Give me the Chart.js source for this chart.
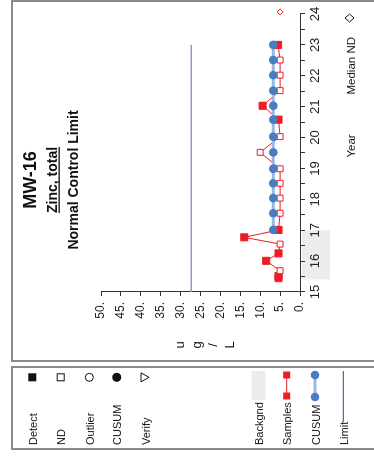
<!DOCTYPE html>
<html>
<head>
<meta charset="utf-8">
<script src="https://cdn.jsdelivr.net/npm/chart.js@4/dist/chart.umd.min.js"></script>
<style>
  html, body { margin: 0; padding: 0; background: #fff; overflow: hidden; }
  #wrap {
    position: absolute; left: 0; top: 0;
    width: 457px; height: 374px;
    transform-origin: top left;
    transform: translate(0, 457px) rotate(-90deg);
  }
</style>
</head>
<body>
<div id="wrap"><canvas id="myChart" width="457" height="374"></canvas></div>
<script>
// chart data (years as decimal, ug/L)
var sampleYears  = [15.45, 15.52, 15.69, 16.01, 16.25, 16.55, 16.77, 17.01, 17.55, 18.04, 18.52, 18.99, 19.52, 20.03, 20.58, 21.03, 21.52, 22.02, 22.51, 23.0];
var sampleValues = [5.4, 5.4, 5.0, 8.5, 5.4, 5.0, 14.0, 5.4, 5.0, 5.0, 5.0, 5.0, 10.0, 5.0, 5.4, 9.4, 5.0, 5.0, 5.0, 5.5];
var sampleND     = [false, false, true, false, false, true, false, false, true, true, true, true, true, true, false, false, true, true, true, false];

var cusumYears  = [17.01, 17.55, 18.04, 18.52, 18.99, 19.52, 20.03, 20.58, 21.03, 21.52, 22.02, 22.51, 23.0];
var cusumValues = [6.7, 6.7, 6.7, 6.7, 6.7, 6.7, 6.7, 6.7, 6.7, 6.7, 6.7, 6.7, 6.7];

var limitYears  = [15, 23];
var limitValues = [27.3, 27.3];

var medianYear = [24.07];
var medianValue = [5];

var backgroundYears = [15.41, 17.0];

var yTicks = [0, 5, 10, 15, 20, 25, 30, 35, 40, 45, 50];
var yTitle = ['u', 'g', '/', 'L'];
var legendLabels = ['Detect', 'ND', 'Outlier', 'CUSUM', 'Verify', 'Backgnd', 'Samples', 'CUSUM', 'Limit'];

var RED = '#ee1c25';
var BLUE_PT = '#4a7cc2';
var BLUE_LN = '#9cb7e0';
var FRAME = '#8a8a8a';
var SANS = "'Liberation Sans', Arial, sans-serif";

function pts(xs, ys) {
    var out = [];
    for (var i = 0; i < xs.length; i++) out.push({x: xs[i], y: ys[i]});
    return out;
}

var decor = {
    id: 'decor',
    beforeDraw: function(chart) {
        var ctx = chart.ctx;
        var xs = chart.scales.x;
        ctx.save();
        ctx.fillStyle = '#fff';
        ctx.fillRect(0, 0, 457, 374);
        // background period band under the year labels
        ctx.fillStyle = '#ececec';
        var bx0 = xs.getPixelForValue(backgroundYears[0]);
        var bx1 = xs.getPixelForValue(backgroundYears[1]);
        ctx.fillRect(bx0, 302, bx1 - bx0, 28);
        // frames
        ctx.strokeStyle = FRAME;
        ctx.lineWidth = 2;
        ctx.strokeRect(96, 12, 360, 380);
        ctx.strokeRect(8, 12, 82, 380);
        ctx.restore();
    },
    afterDraw: function(chart) {
        var ctx = chart.ctx;
        ctx.save();
        ctx.fillStyle = '#111';
        ctx.textAlign = 'center';
        ctx.textBaseline = 'alphabetic';
        ctx.font = 'bold 18px ' + SANS;
        ctx.fillText('MW-16', 277, 36);
        ctx.font = 'bold 14px ' + SANS;
        ctx.fillText('Zinc, total', 277, 57);
        var w = ctx.measureText('Zinc, total').width;
        ctx.fillRect(277 - w / 2, 58.5, w, 1.3);
        ctx.font = 'bold 14px ' + SANS;
        ctx.fillText('Normal Control Limit', 277, 78);

        // stacked y title
        ctx.font = '13px ' + SANS;
        ctx.textBaseline = 'middle';
        var ty = [180, 197, 213, 230];
        for (var i = 0; i < yTitle.length; i++) ctx.fillText(yTitle[i], 112, ty[i]);

        // axis notes
        ctx.font = '11.5px ' + SANS;
        ctx.textBaseline = 'alphabetic';
        ctx.fillText('Year', 311, 355);
        ctx.textAlign = 'right';
        ctx.fillText('Median ND', 420, 355);
        ctx.strokeStyle = '#111';
        ctx.lineWidth = 1;
        ctx.beginPath();
        ctx.moveTo(439, 345); ctx.lineTo(443, 349.5); ctx.lineTo(439, 354); ctx.lineTo(435, 349.5); ctx.closePath();
        ctx.stroke();

        // legend panel
        ctx.textAlign = 'left';
        ctx.font = '11px ' + SANS;
        var ly = [32.3, 60.7, 89.3, 116.7, 145, 258.5, 286.7, 315, 343.3];
        for (var j = 0; j < legendLabels.length; j++) ctx.fillText(legendLabels[j], 12, ly[j] + 4.5);
        var mx = 79.7;
        ctx.fillStyle = '#111';
        ctx.fillRect(mx - 4, ly[0] - 4, 8, 8);
        ctx.strokeRect(mx - 3.5, ly[1] - 3.5, 7, 7);
        ctx.beginPath(); ctx.arc(mx, ly[2], 4, 0, Math.PI * 2); ctx.stroke();
        ctx.beginPath(); ctx.arc(mx, ly[3], 4.5, 0, Math.PI * 2); ctx.fill();
        ctx.beginPath();
        ctx.moveTo(mx - 4.5, ly[4] - 4); ctx.lineTo(mx + 4.5, ly[4] - 4); ctx.lineTo(mx, ly[4] + 4); ctx.closePath();
        ctx.stroke();
        ctx.fillStyle = '#ececec';
        ctx.fillRect(57, ly[5] - 7, 29, 14);
        ctx.strokeStyle = RED; ctx.fillStyle = RED;
        ctx.beginPath(); ctx.moveTo(61, ly[6]); ctx.lineTo(82, ly[6]); ctx.stroke();
        ctx.fillRect(82 - 3.5, ly[6] - 3.5, 7, 7);
        ctx.fillRect(61 - 3.5, ly[6] - 3.5, 7, 7);
        ctx.strokeStyle = BLUE_LN; ctx.lineWidth = 3;
        ctx.beginPath(); ctx.moveTo(60, ly[7]); ctx.lineTo(82, ly[7]); ctx.stroke();
        ctx.fillStyle = BLUE_PT;
        ctx.beginPath(); ctx.arc(82, ly[7], 4.3, 0, Math.PI * 2); ctx.fill();
        ctx.beginPath(); ctx.arc(60, ly[7], 4.3, 0, Math.PI * 2); ctx.fill();
        ctx.strokeStyle = '#33449c'; ctx.lineWidth = 1;
        ctx.beginPath(); ctx.moveTo(35, ly[8]); ctx.lineTo(86, ly[8]); ctx.stroke();
        ctx.restore();
    }
};

var sampleData = pts(sampleYears, sampleValues);

new Chart(document.getElementById('myChart'), {
    type: 'line',
    data: {
        datasets: [{
            label: 'CUSUM',
            data: pts(cusumYears, cusumValues),
            borderColor: BLUE_LN,
            borderWidth: 3,
            pointRadius: 4.3,
            pointBackgroundColor: BLUE_PT,
            pointBorderWidth: 0,
            order: 0
        }, {
            label: 'Samples',
            data: sampleData,
            borderColor: RED,
            borderWidth: 1,
            pointStyle: 'rect',
            pointRadius: sampleND.map(function(nd) { return nd ? 4.2 : 5; }),
            pointBackgroundColor: sampleND.map(function(nd) { return nd ? '#fff' : RED; }),
            pointBorderColor: RED,
            pointBorderWidth: 1,
            order: 1
        }, {
            label: 'Limit',
            data: pts(limitYears, limitValues),
            borderColor: '#8b9bd0',
            borderWidth: 1.5,
            pointRadius: 0,
            order: 2
        }, {
            label: 'Median ND',
            data: pts(medianYear, medianValue),
            showLine: false,
            pointStyle: 'rectRot',
            pointRadius: 3,
            pointBackgroundColor: '#fff',
            pointBorderColor: RED,
            pointBorderWidth: 1,
            clip: false,
            order: 3
        }]
    },
    options: {
        responsive: false,
        animation: false,
        devicePixelRatio: 1,
        layout: { padding: { left: 105, right: 14, top: 101, bottom: 44 } },
        plugins: { legend: { display: false }, tooltip: { enabled: false } },
        scales: {
            x: {
                type: 'linear',
                min: 15, max: 24,
                afterFit: function(s) { s.height = 30; },
                border: { display: true, color: '#333', width: 1 },
                grid: { drawOnChartArea: false, drawTicks: true, tickLength: 5, color: '#333' },
                ticks: {
                    stepSize: 0.5, autoSkip: false, maxRotation: 0, padding: 3,
                    color: '#222',
                    font: { family: SANS, size: 13 },
                    callback: function(v) { return Number.isInteger(v) ? String(v) : ''; }
                }
            },
            y: {
                type: 'linear',
                min: 0, max: 50,
                afterFit: function(s) { s.width = 60; },
                afterBuildTicks: function(s) { s.ticks = yTicks.map(function(v) { return {value: v}; }); },
                border: { display: true, color: '#333', width: 1 },
                grid: { drawOnChartArea: false, drawTicks: true, tickLength: 4, color: '#333' },
                ticks: {
                    padding: 6,
                    color: '#222',
                    font: { family: SANS, size: 12 },
                    callback: function(v) { return v + '.'; }
                }
            }
        }
    },
    plugins: [decor]
});
</script>
</body>
</html>
